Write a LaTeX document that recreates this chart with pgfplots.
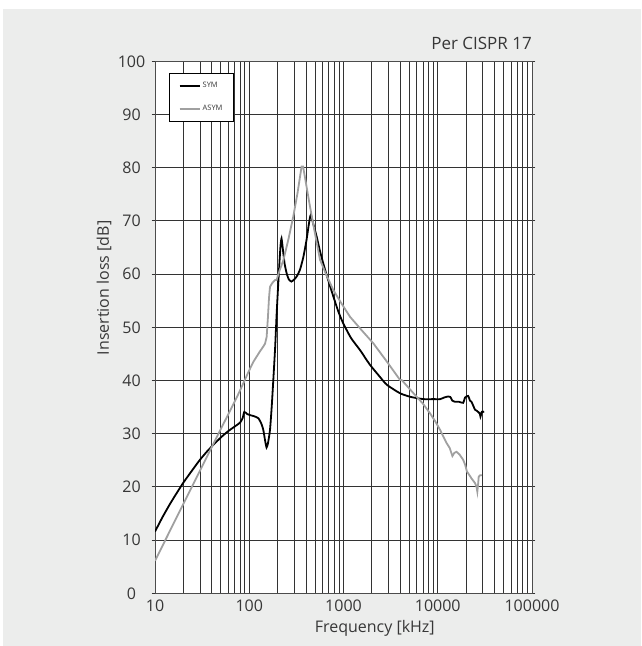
\documentclass[border=0pt]{standalone}
\usepackage{pgfplots}
\pgfplotsset{compat=1.18}
\usepackage{fontspec}
\setmainfont{Open Sans}
\definecolor{panel}{RGB}{236,237,236}
\definecolor{txt}{RGB}{55,55,55}
\definecolor{asym}{RGB}{160,160,160}

\begin{document}
\begin{tikzpicture}
% page and grey panel, 1pt = 1px of the reference
\fill[white] (0,0) rectangle (641pt,646pt);
\fill[panel] (3pt,0) rectangle (641pt,637pt);
\begin{axis}[
  name=ax,
  at={(155pt,52.7pt)}, anchor=south west,
  scale only axis, width=377pt, height=532pt,
  xmode=log, xmin=10, xmax=100000,
  ymin=0, ymax=100,
  xtick={10,100,1000,10000,100000},
  xticklabels={10,100,1000,10000,100000},
  ytick={0,10,...,100},
  axis background/.style={fill=white},
  axis line style={black!70, line width=0.8pt},
  tick align=outside,
  major tick length=3.5pt,
  xtick style={draw=none},
  minor tick style={draw=none},
  ytick style={black!80, line width=0.8pt},
  xmajorgrids, xminorgrids, ymajorgrids,
  major grid style={black!80, line width=0.9pt},
  minor grid style={black!80, line width=0.9pt},
  ticklabel style={font=\fontsize{16}{19}\selectfont, text=txt},
  /pgf/number format/assume math mode=true,
  yticklabel style={anchor=center, xshift=-20pt},
  xlabel={Frequency [kHz]},
  ylabel={Insertion loss [dB]},
  label style={font=\fontsize{16}{19}\selectfont, text=txt},
  xlabel style={at={(axis description cs:0.583,0)}, anchor=center, yshift=-34.7pt},
  ylabel style={at={(axis description cs:-0.135,0.574)}, anchor=center},
  legend style={at={(axis description cs:0.038,0.978)}, anchor=north west,
    draw=black, fill=white, line width=0.7pt,
    font=\fontsize{7.5}{8.5}\selectfont, text=txt,
    inner xsep=9pt, inner ysep=7pt, row sep=12pt,
    cells={anchor=west}},
  legend image code/.code={\draw[#1, line width=2pt] (0pt,0pt) -- (20pt,0pt);},
]
\addplot[black, line width=1.8pt, smooth, tension=0.35] coordinates {
  (10,11.6) (12,14.3) (14,16.4) (16,18.1) (20,20.8) (25,23.2)
  (30,25.1) (35.4,26.6) (40,27.6) (50,29.3) (60,30.5) (73.5,31.6)
  (80,32.1) (85,32.9)
  (88.6,34.1) (95,33.7) (101.5,33.5) (112,33.3) (125,32.9) (135,31.8)
  (141,30.7) (147,28.8) (152.6,27.4) (158,28.2) (166,30.7) (173,35)
  (180,40.1) (188,46) (195.4,52.6) (205,59.5) (214,65) (220,66.7)
  (228,64.5) (237,62) (249,60.2) (263,59) (280,58.6) (300,59.0)
  (320,59.6) (345,60.8) (375,63.2) (405,66.4) (430,69.5) (449,71.1)
  (480,69.3) (520,67) (560,64.5) (610,62) (690,58.8) (780,55.8)
  (880,53) (990,50.8) (1200,48) (1500,45.7) (1900,43) (2430,40.7)
  (2880,39.2) (3980,37.6) (5200,36.9) (7060,36.5) (9000,36.5)
  (10600,36.5) (11700,36.8) (12900,37) (13600,36.9) (14300,36.2)
  (15200,36) (16800,36) (18600,35.8) (19500,36.8) (21000,37.1)
  (22000,36.2) (22800,36) (24000,35.1) (24900,34.5) (26000,34.3)
  (27900,33.8) (28400,33.2) (29300,34.1) (30300,34.1) (31000,34.2)
};
\addplot[asym, line width=1.8pt] coordinates {
  (10,6.1) (14,11.3) (20,16.8) (28,22.0) (38.3,26.8) (50,30.9)
  (62.5,34.3) (75,37.1) (86.6,39.5) (98,41.6) (110.5,43.5) (128,45.3)
  (141,46.4) (147,46.9) (153,48.2) (158,52) (162,55.5) (166,57.6)
  (175,58.3) (188,58.9) (195,58.9) (211,60.8) (230,62.6) (260,66.5)
  (293,70.8) (325,75.2) (359,80.2) (373,80.2) (405,76.5) (441,72.7)
  (500,67.5) (563,62.7) (660,59.8) (780,57) (950,54.5) (1170,52)
  (1550,49.5) (2070,47) (2900,43.5) (3980,40.1) (4140,40.1)
  (5530,37.6) (7000,35.6) (8300,33.8) (9500,32.2) (10600,30.7)
  (11500,29.4) (12460,28.2) (13400,27.3) (14300,25.8) (15000,26.4)
  (15800,26.6) (17000,26.1) (18600,25.1) (19500,24.2) (20400,22.9)
  (21500,22.3) (22800,21.6) (24900,20.7) (25800,20.0) (26300,19.1)
  (26800,20.5) (27200,21.9) (28200,22.2) (29400,22.2)
};
\legend{SYM,ASYM}
\end{axis}
\node[anchor=base east, font=\fontsize{17}{20}\selectfont, text=txt,
  inner sep=0pt] at ([yshift=12pt]ax.north east) {Per CISPR 17};
\end{tikzpicture}
\end{document}
